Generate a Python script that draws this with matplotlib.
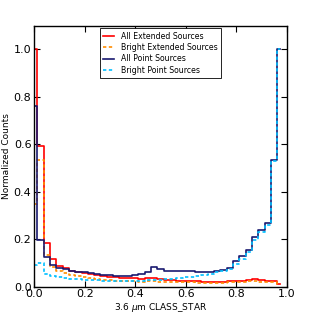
## Normalized CLASS_STAR histograms for extended and point sources.

import numpy as np
import matplotlib.pyplot as plt

# bin left edges (0.025 wide), values normalized to peak
class_star = np.arange(40) * 0.025

all_ext = [1.0, 0.595, 0.183, 0.115, 0.088, 0.077, 0.068, 0.062, 0.056, 0.052,
           0.048, 0.045, 0.042, 0.040, 0.038, 0.036, 0.035, 0.034, 0.036, 0.038,
           0.032, 0.030, 0.028, 0.026, 0.025, 0.023, 0.022, 0.021, 0.020, 0.020,
           0.021, 0.022, 0.024, 0.026, 0.030, 0.031, 0.027, 0.023, 0.025, 0.013]

bright_ext = [0.35, 0.535, 0.132, 0.085, 0.068, 0.058, 0.050, 0.045, 0.040, 0.036,
              0.033, 0.030, 0.028, 0.026, 0.024, 0.023, 0.022, 0.021, 0.022, 0.024,
              0.020, 0.019, 0.018, 0.018, 0.018, 0.018, 0.017, 0.017, 0.017, 0.017,
              0.017, 0.018, 0.018, 0.020, 0.022, 0.022, 0.020, 0.018, 0.020, 0.010]

all_pt = [0.76, 0.195, 0.124, 0.092, 0.080, 0.073, 0.068, 0.064, 0.060, 0.057,
          0.054, 0.051, 0.049, 0.047, 0.046, 0.046, 0.048, 0.052, 0.063, 0.082,
          0.073, 0.068, 0.066, 0.066, 0.067, 0.066, 0.064, 0.062, 0.062, 0.068,
          0.072, 0.080, 0.108, 0.129, 0.155, 0.208, 0.239, 0.267, 0.534, 1.0]

bright_pt = [0.09, 0.10, 0.052, 0.044, 0.040, 0.036, 0.034, 0.032, 0.030, 0.028,
             0.027, 0.026, 0.025, 0.024, 0.024, 0.024, 0.025, 0.026, 0.027, 0.029,
             0.030, 0.032, 0.034, 0.036, 0.039, 0.042, 0.046, 0.050, 0.055, 0.060,
             0.068, 0.075, 0.095, 0.118, 0.145, 0.197, 0.230, 0.260, 0.530, 1.0]

fig = plt.figure(figsize=(3.14, 3.14), dpi=100)
ax = fig.add_axes([0.109, 0.087, 0.804, 0.831])

ax.plot(class_star, all_ext, drawstyle='steps-mid', color='red', lw=1.2,
        label='All Extended Sources')
ax.plot(class_star, bright_ext, drawstyle='steps-mid', color='darkorange', lw=1.2,
        ls=(0, (2, 1.5)), label='Bright Extended Sources')
ax.plot(class_star, all_pt, drawstyle='steps-mid', color='midnightblue', lw=1.2,
        label='All Point Sources')
ax.plot(class_star, bright_pt, drawstyle='steps-mid', color='deepskyblue', lw=1.2,
        ls=(0, (2, 1.5)), label='Bright Point Sources')

ax.set_xlim(0, 1)
ax.set_ylim(0, 1.1)
ax.set_xticks(np.arange(0, 1.01, 0.2))
ax.set_yticks(np.arange(0, 1.01, 0.2))
ax.tick_params(direction='in', top=True, right=True, length=4, labelsize=8, pad=2)
ax.set_xlabel(r'3.6 $\mu$m CLASS_STAR', fontsize=6.5, labelpad=1)
ax.set_ylabel('Normalized Counts', fontsize=6.5, labelpad=2)
for s in ax.spines.values():
    s.set_linewidth(1.0)

leg = ax.legend(loc='upper center', fontsize=5.6, fancybox=False, framealpha=1,
                handlelength=1.4, handletextpad=1.0, borderaxespad=0.35,
                borderpad=0.4, labelspacing=0.3)
leg.get_frame().set_edgecolor('black')
leg.get_frame().set_linewidth(0.6)

fig.savefig('out.png', dpi=100)
